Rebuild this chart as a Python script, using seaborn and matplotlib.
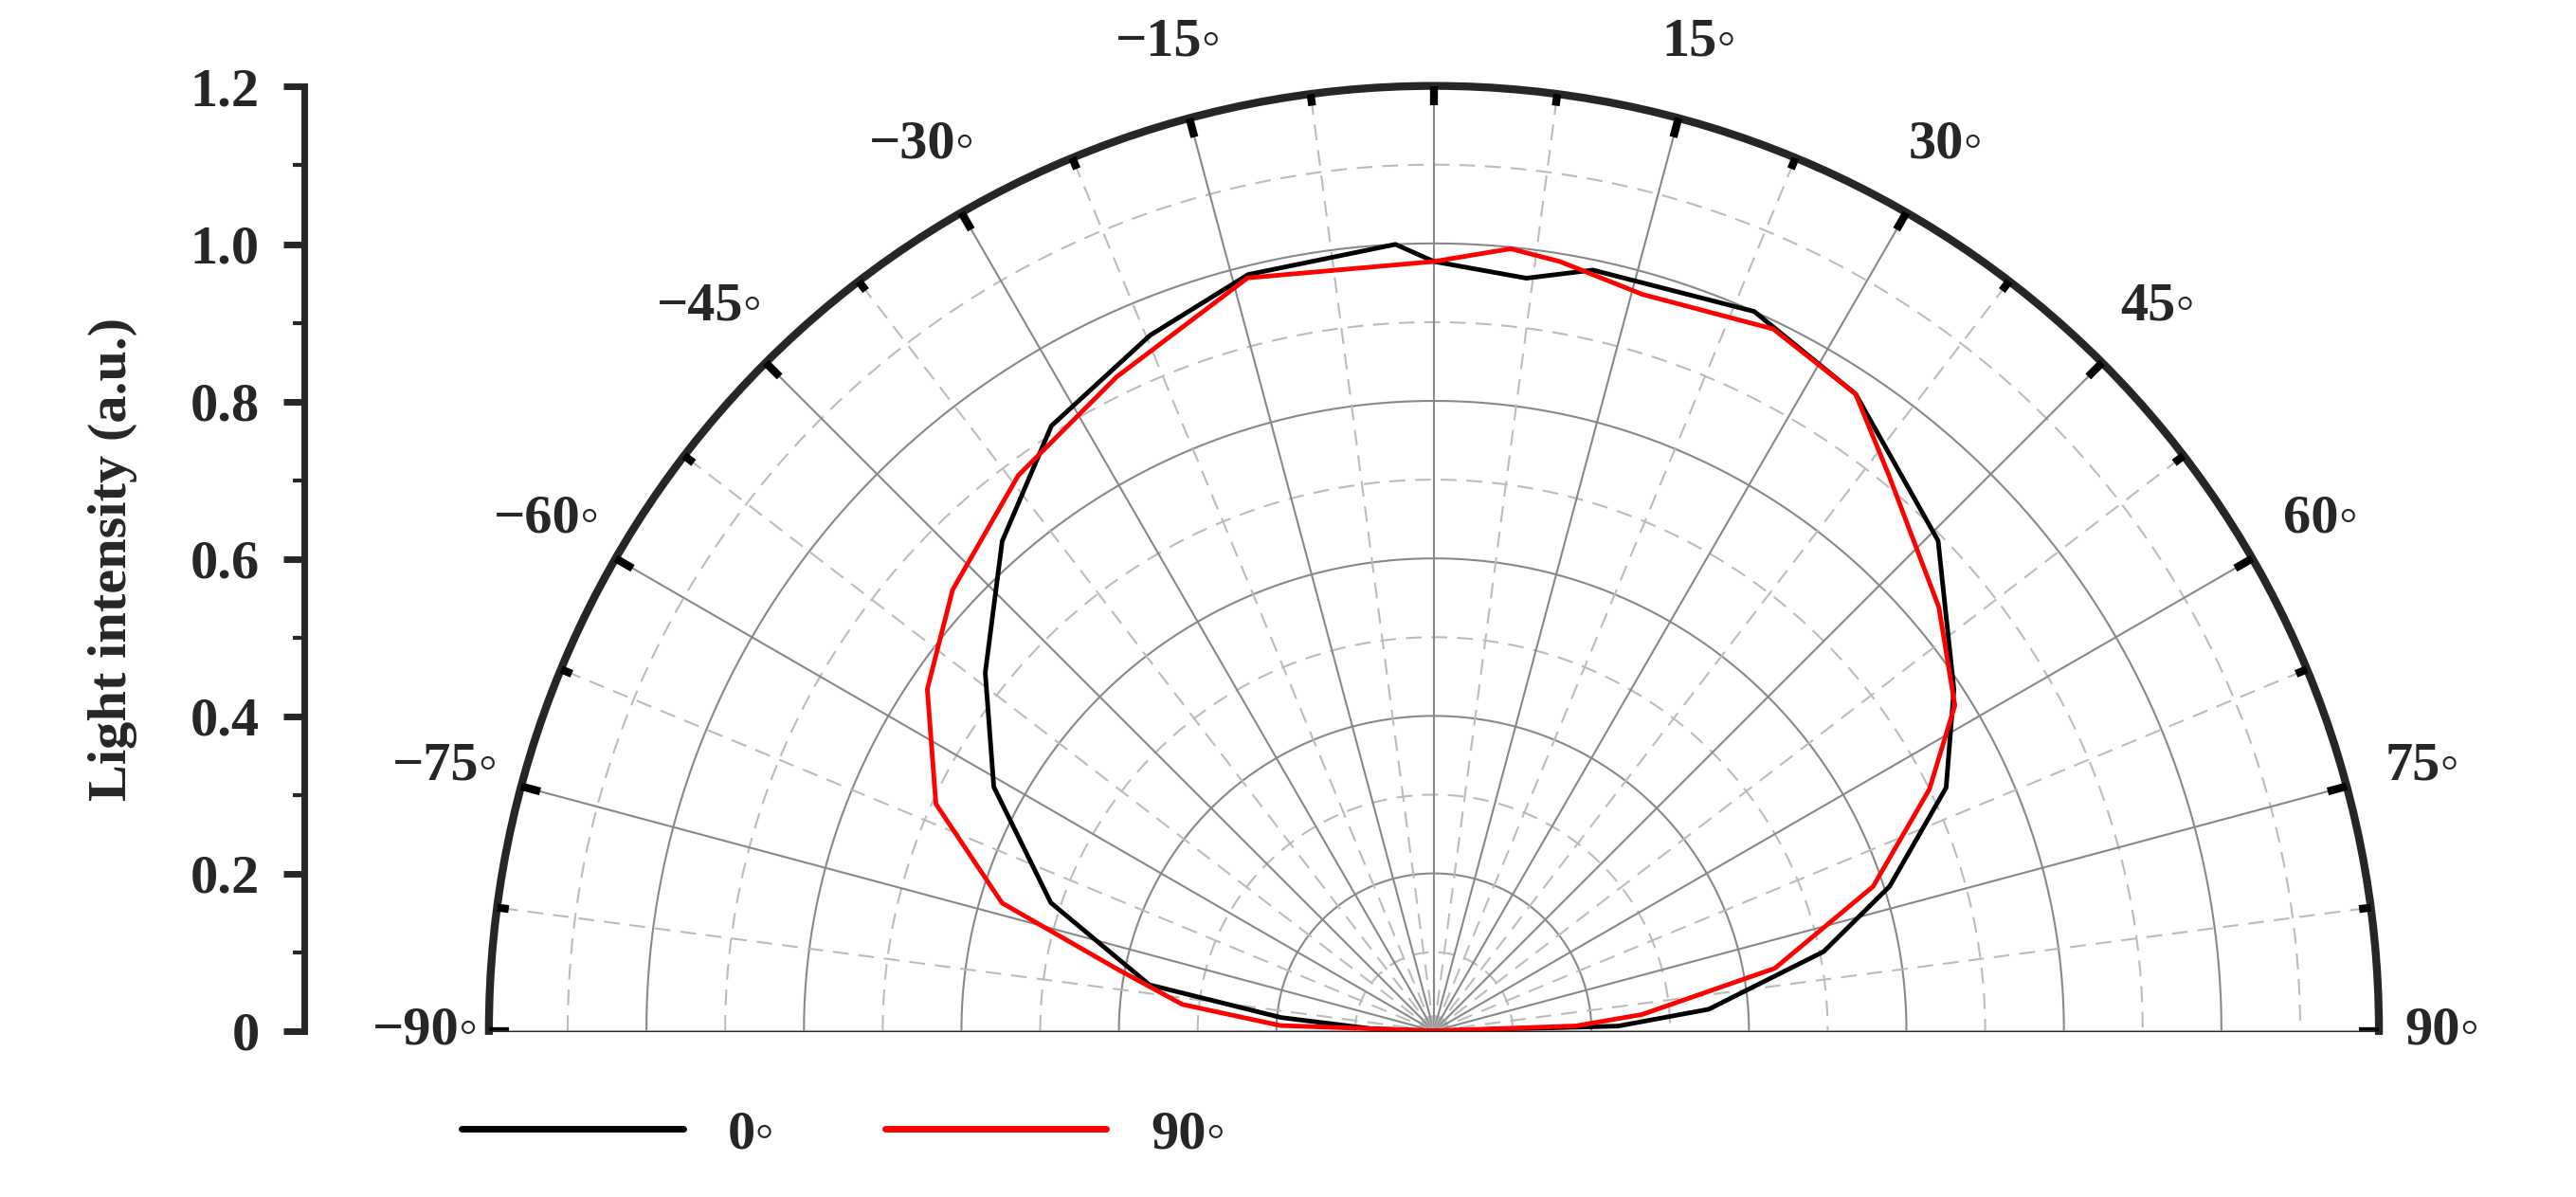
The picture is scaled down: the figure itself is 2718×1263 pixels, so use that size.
import numpy as np
import seaborn as sns
import matplotlib.pyplot as plt

sns.set_style('white')
plt.rcParams['font.family'] = ['Liberation Serif', 'DejaVu Sans']
plt.rcParams['font.weight'] = 'bold'

# angle (deg) / intensity
ang_0 = [-90, -88, -85, -80.8, -71.5, -61, -51.4, -41.4, -32.3, -22.2, -13.8, -2.8, 0, 7, 11.8, 24, 33.5, 45.8, 56.7, 64.6, 72.4, 78.5, 85.5, 88.5, 90]
int_0 = [0.0, 0.08, 0.195, 0.366, 0.513, 0.639, 0.729, 0.829, 0.909, 0.954, 0.989, 1.0, 0.977, 0.963, 0.987, 1.0, 0.97, 0.893, 0.79, 0.72, 0.607, 0.505, 0.35, 0.234, 0.0]
ang_90 = [-90, -88, -84, -78.9, -73.5, -65.5, -56, -47.5, -36.8, -25.9, -13.9, 0, 5.6, 9.3, 15.8, 25.8, 33.5, 39.3, 50, 58, 64, 71.8, 79.6, 85.5, 88, 90]
int_90 = [0.0, 0.195, 0.321, 0.411, 0.572, 0.695, 0.776, 0.829, 0.881, 0.923, 0.985, 0.977, 0.998, 0.99, 0.972, 0.99, 0.97, 0.912, 0.837, 0.78, 0.70, 0.587, 0.44, 0.265, 0.18, 0.0]

theta_labels = [-90, -75, -60, -45, -30, -15, 15, 30, 45, 60, 75, 90]
r_ticks = [0, 0.2, 0.4, 0.6, 0.8, 1.0, 1.2]
deg = '\u25e6'
FS = 42

fig = plt.figure(figsize=(27.18, 12.63), dpi=100)
# square box; the half-disc is centred vertically inside it
ax = fig.add_axes([0.1898, -0.256, 0.7337, 1.579], projection='polar')
ax.set_theta_zero_location('N')
ax.set_theta_direction(-1)
ax.set_thetamin(-90)
ax.set_thetamax(90)
ax.set_rlim(0, 1.2)
ax.grid(False)
ax.set_xticks([])
ax.set_yticks([])
ax.patch.set_alpha(0)
for s in ['start', 'end', 'inner']:
    ax.spines[s].set_visible(False)
ax.spines['polar'].set_linewidth(6)

t = np.radians(np.linspace(-90, 90, 361))
for r in np.arange(0.1, 1.15, 0.1):
    major = round(r * 10) % 2 == 0
    ax.plot(t, np.full_like(t, r), color='#888888' if major else '#bbbbbb',
            lw=1.5, ls='-' if major else (0, (8, 5)), zorder=1)
for a in np.arange(-90, 90.1, 7.5):
    major = a % 15 == 0
    ax.plot([np.radians(a)] * 2, [0, 1.2], color='#888888' if major else '#bbbbbb',
            lw=1.5, ls='-' if major else (0, (8, 5)), zorder=1)
    ax.plot([np.radians(a)] * 2, [1.2 - (0.025 if major else 0.015), 1.2],
            color='black', lw=6, zorder=3, solid_capstyle='butt')

ax.plot(np.radians(ang_0), int_0, color='black', lw=3.5, zorder=4)
ax.plot(np.radians(ang_90), int_90, color='#ff0000', lw=3.5, zorder=5)

for a in theta_labels:
    rr = 1.3 if abs(a) < 90 else 1.28
    ax.text(np.radians(a), rr, f'\u2212{abs(a)}{deg}' if a < 0 else f'{a}{deg}',
            ha='center', va='center', fontsize=FS, fontweight='bold', clip_on=False)

lax = fig.add_axes([0.118, 0.1386, 0.01, 0.789])
lax.set_ylim(0, 1.2)
lax.set_yticks(r_ticks)
lax.set_yticklabels(['0', '0.2', '0.4', '0.6', '0.8', '1.0', '1.2'])
lax.set_yticks(np.arange(0.1, 1.2, 0.2), minor=True)
lax.set_xticks([])
for s in ['top', 'right', 'bottom']:
    lax.spines[s].set_visible(False)
lax.spines['left'].set_linewidth(5)
lax.tick_params(axis='y', which='major', length=16, width=5, labelsize=FS, left=True, pad=18)
lax.tick_params(axis='y', which='minor', length=9, width=3, left=True)
lax.set_facecolor('none')
lax.set_ylabel('Light intensity (a.u.)', fontsize=FS, fontweight='bold', labelpad=40)

fig.legend(handles=[plt.Line2D([], [], color='black', lw=5), plt.Line2D([], [], color='#ff0000', lw=5)],
           labels=[f'0{deg}', f'90{deg}'], loc='lower left', bbox_to_anchor=(0.16, -0.01),
           ncol=2, frameon=False, fontsize=FS, handlelength=4, columnspacing=2, handletextpad=0.8)

fig.savefig('out.png', dpi=100)
